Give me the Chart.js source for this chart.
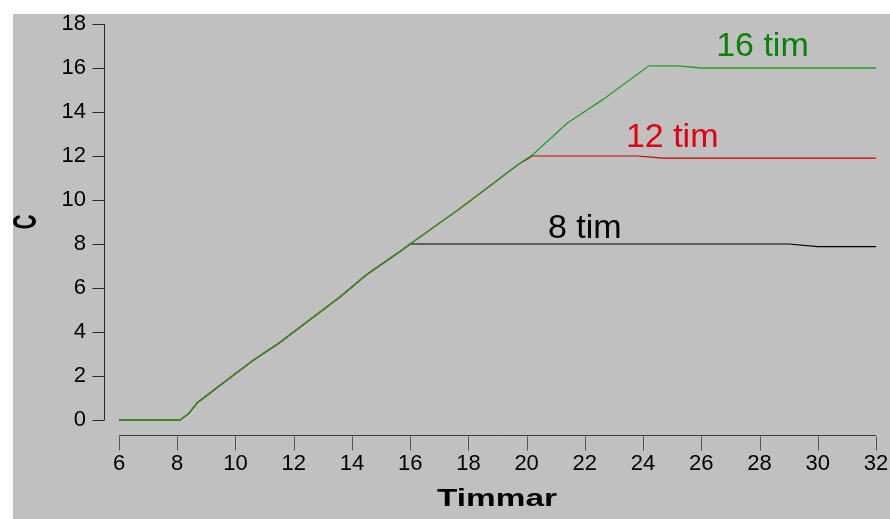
<!DOCTYPE html>
<html>
<head>
<meta charset="utf-8">
<script src="https://cdn.jsdelivr.net/npm/chart.js@4/dist/chart.umd.min.js"></script>
<style>
  html, body { margin: 0; padding: 0; background: #fff; }
  #wrap { width: 890px; height: 519px; }
</style>
</head>
<body>
<div id="wrap"><canvas id="myChart" width="890" height="519"></canvas></div>
<script>
// time axis (hours) and concentration values
var xTicks = [6, 8, 10, 12, 14, 16, 18, 20, 22, 24, 26, 28, 30, 32];
var yTicks = [0, 2, 4, 6, 8, 10, 12, 14, 16, 18];

var hours8 = [6, 8, 8.1, 8.4, 8.7, 9.6, 10.6, 11.5, 12.6, 13.6, 14.5, 15.7, 16, 29, 30, 32];
var conc8 = [0, 0, 0, 0.3, 0.8, 1.7, 2.7, 3.5, 4.6, 5.6, 6.6, 7.7, 8.0, 8.0, 7.88, 7.88];

var hours12 = [6, 8, 8.1, 8.4, 8.7, 9.6, 10.6, 11.5, 12.6, 13.6, 14.5, 15.7, 16, 17.7, 19.7, 20.2, 23.8, 24.7, 32];
var conc12 = [0, 0, 0, 0.3, 0.8, 1.7, 2.7, 3.5, 4.6, 5.6, 6.6, 7.7, 8.0, 9.6, 11.6, 12.0, 12.0, 11.9, 11.9];

var hours16 = [6, 8, 8.1, 8.4, 8.7, 9.6, 10.6, 11.5, 12.6, 13.6, 14.5, 15.7, 16, 17.7, 19.7, 20.2, 21.4, 22.6, 24.2, 25.2, 26, 32];
var conc16 = [0, 0, 0, 0.3, 0.8, 1.7, 2.7, 3.5, 4.6, 5.6, 6.6, 7.7, 8.0, 9.6, 11.6, 12.05, 13.5, 14.55, 16.1, 16.1, 16.0, 16.0];

// curve labels: text, x (hours), y (C)
var labelText = ["16 tim", "12 tim", "8 tim"];
var labelX = [28.1, 25.0, 22.0];
var labelY = [16.95, 12.85, 8.7];
var labelColor = ["#0a820a", "#e00010", "#000000"];

function pts(xs, ys) {
  var out = [];
  for (var i = 0; i < xs.length; i++) out.push({ x: xs[i], y: ys[i] });
  return out;
}

var FONT = "'Liberation Sans', Arial, Helvetica, sans-serif";

// keep tick padding from pushing the plot area around
function noPad(s) {
  s.paddingTop = 0;
  s.paddingBottom = 0;
  s.paddingLeft = 0;
  s.paddingRight = 0;
}

var backdrop = {
  id: "backdrop",
  beforeDraw: function (chart) {
    var ctx = chart.ctx;
    ctx.save();
    ctx.fillStyle = "#c0c0c0";
    ctx.fillRect(13, 14, chart.width - 13, chart.height - 14);
    ctx.restore();
  },
  afterDraw: function (chart) {
    var ctx = chart.ctx;
    var xs = chart.scales.x, ys = chart.scales.y;
    ctx.save();
    ctx.lineWidth = 1;
    ctx.strokeStyle = "#2a2a2a";

    // detached y axis
    var ax = Math.round(xs.left - 15) + 0.5;
    ctx.beginPath();
    ctx.moveTo(ax, ys.getPixelForValue(yTicks[yTicks.length - 1]));
    ctx.lineTo(ax, ys.getPixelForValue(yTicks[0]));
    yTicks.forEach(function (v) {
      var py = Math.round(ys.getPixelForValue(v)) + 0.5;
      ctx.moveTo(ax - 12, py);
      ctx.lineTo(ax, py);
    });
    ctx.stroke();

    // detached x axis
    var ay = Math.round(ys.bottom + 15) + 0.5;
    ctx.strokeStyle = "#3a3a3a";
    ctx.beginPath();
    ctx.moveTo(xs.getPixelForValue(xTicks[0]), ay);
    ctx.lineTo(xs.getPixelForValue(xTicks[xTicks.length - 1]), ay);
    ctx.stroke();
    ctx.strokeStyle = "#555";
    ctx.beginPath();
    xTicks.forEach(function (v) {
      var px = Math.round(xs.getPixelForValue(v)) + 0.5;
      ctx.moveTo(px, ay + 1);
      ctx.lineTo(px, ay + 15);
    });
    ctx.stroke();

    // curve labels
    ctx.font = "34px " + FONT;
    ctx.textAlign = "center";
    ctx.textBaseline = "middle";
    for (var i = 0; i < labelText.length; i++) {
      ctx.fillStyle = labelColor[i];
      ctx.fillText(labelText[i], xs.getPixelForValue(labelX[i]), ys.getPixelForValue(labelY[i]));
    }

    // axis titles
    ctx.fillStyle = "#000";
    ctx.font = "bold 23px " + FONT;
    ctx.save();
    ctx.translate(497, 500);
    ctx.scale(1.45, 1);
    ctx.fillText("Timmar", 0, 0);
    ctx.restore();

    ctx.save();
    ctx.translate(27, 222);
    ctx.rotate(-Math.PI / 2);
    ctx.scale(0.85, 1.4);
    ctx.font = "bold 24px " + FONT;
    ctx.fillText("C", 0, 0);
    ctx.restore();

    ctx.restore();
  }
};

var ctx = document.getElementById("myChart").getContext("2d");
var chart = new Chart(ctx, {
  type: "line",
  data: {
    datasets: [
      { label: "16 tim", data: pts(hours16, conc16), borderColor: "#1fa31f", borderWidth: 1.3 },
      { label: "12 tim", data: pts(hours12, conc12), borderColor: "#c80000", borderWidth: 1.2 },
      { label: "8 tim", data: pts(hours8, conc8), borderColor: "#000000", borderWidth: 1.2 }
    ]
  },
  options: {
    responsive: false,
    animation: false,
    devicePixelRatio: 1,
    layout: { padding: { top: 24, right: 14, left: 0, bottom: 0 } },
    elements: { point: { radius: 0 }, line: { tension: 0 } },
    datasets: { line: { clip: false } },
    plugins: { legend: { display: false }, tooltip: { enabled: false } },
    scales: {
      x: {
        type: "linear",
        min: 6,
        max: 32,
        grid: { display: false, drawTicks: false },
        border: { display: false },
        ticks: {
          stepSize: 2,
          padding: 31,
          color: "#000",
          font: { size: 22, family: FONT },
          maxRotation: 0
        },
        afterFit: function (s) { s.height = 99; noPad(s); }
      },
      y: {
        min: 0,
        max: 18,
        grid: { display: false, drawTicks: false },
        border: { display: false },
        ticks: {
          stepSize: 2,
          padding: 33,
          color: "#000",
          font: { size: 22, family: FONT }
        },
        afterFit: function (s) { s.width = 119; noPad(s); }
      }
    }
  },
  plugins: [backdrop]
});
</script>
</body>
</html>
